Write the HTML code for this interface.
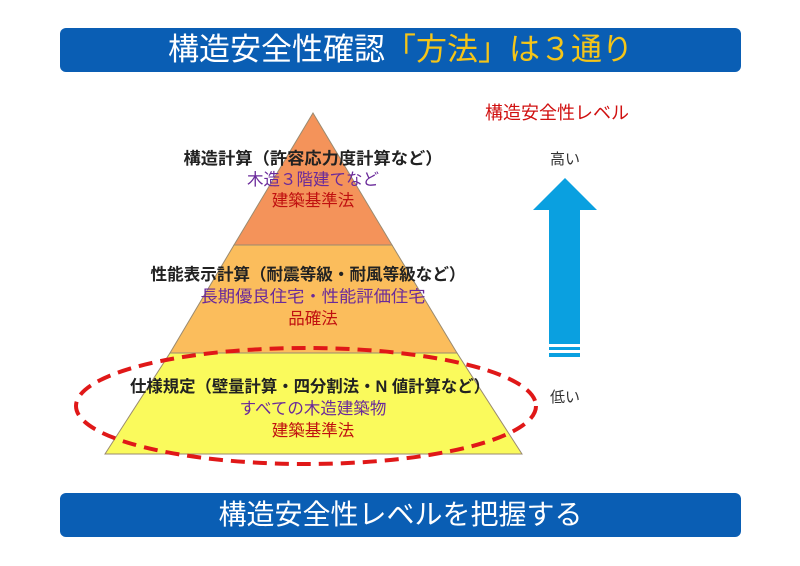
<!DOCTYPE html>
<html><head><meta charset="utf-8"><style>
html,body{margin:0;padding:0;background:#fff;}
body{width:800px;height:566px;overflow:hidden;position:relative;font-family:"Liberation Sans","Noto Sans CJK JP",sans-serif;}
.bar{position:absolute;left:60px;width:681px;height:44px;background:#0a5eb4;border-radius:6px;color:#fff;text-align:center;font-size:28px;line-height:44px;}
</style></head><body>
<div class="bar" style="top:28px;font-size:31px;">構造安全性確認<span style="color:#f5c518">「方法」は３通り</span></div>
<div class="bar" style="top:493px;">構造安全性レベルを把握する</div>
<svg width="800" height="566" style="position:absolute;left:0;top:0" font-family="Liberation Sans, Noto Sans CJK JP, sans-serif">
<polygon points="313,113 392,245 234,245" fill="#f4935a" stroke="#9a8a70" stroke-width="1"/>
<polygon points="234,245 392,245 457,353 170,353" fill="#fbbd5c" stroke="#9a8a70" stroke-width="1"/>
<polygon points="170,353 457,353 522,454 105,454" fill="#fafa5c" stroke="#9a8a70" stroke-width="1"/>
<g text-anchor="middle" font-size="16.5">
<text x="313" y="164" font-weight="bold" fill="#222" textLength="259" lengthAdjust="spacingAndGlyphs">構造計算（許容応力度計算など）</text>
<text x="313" y="185" fill="#6a2a9a">木造３階建てなど</text>
<text x="313" y="206" fill="#c01010">建築基準法</text>
<text x="308" y="280" font-weight="bold" fill="#222" textLength="315" lengthAdjust="spacingAndGlyphs">性能表示計算（耐震等級・耐風等級など）</text>
<text x="313" y="302" fill="#6a2a9a" textLength="225" lengthAdjust="spacingAndGlyphs">長期優良住宅・性能評価住宅</text>
<text x="313" y="324" fill="#c01010">品確法</text>
<text x="310" y="392" font-weight="bold" fill="#222" textLength="360" lengthAdjust="spacingAndGlyphs">仕様規定（壁量計算・四分割法・N 値計算など）</text>
<text x="313" y="414" fill="#6a2a9a">すべての木造建築物</text>
<text x="313" y="436" fill="#c01010">建築基準法</text>
</g>
<ellipse cx="306" cy="406" rx="230" ry="58" fill="none" stroke="#e01818" stroke-width="4" stroke-dasharray="14,8"/>
<text x="557" y="119" text-anchor="middle" font-size="18" fill="#d01010">構造安全性レベル</text>
<text x="565" y="164" text-anchor="middle" font-size="15" fill="#333">高い</text>
<text x="565" y="402" text-anchor="middle" font-size="15" fill="#333">低い</text>
<polygon points="565,178 597,210 580,210 580,344 549,344 549,210 533,210" fill="#0aa0e0"/>
<rect x="549" y="347" width="31" height="3" fill="#0aa0e0"/>
<rect x="549" y="353" width="31" height="4" fill="#0aa0e0"/>
</svg>
</body></html>
